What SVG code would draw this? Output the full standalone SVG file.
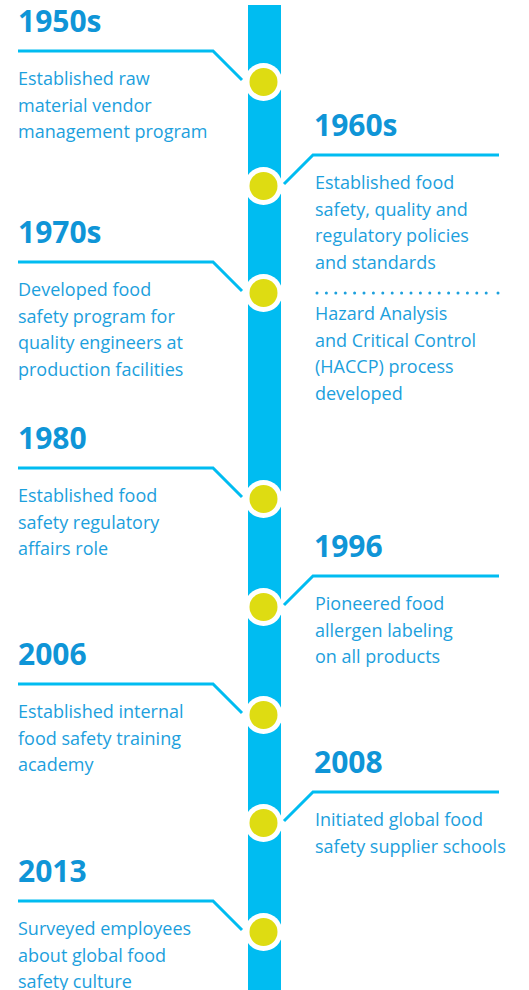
<svg xmlns="http://www.w3.org/2000/svg" width="529" height="990" viewBox="0 0 529 990">
  <style>
    .title { font-family: "Open Sans", "Liberation Sans", sans-serif; font-weight: 700; font-size: 30px; fill: #0f95d7; }
    .body { font-family: "Open Sans", "Liberation Sans", sans-serif; font-size: 18px; fill: #1ca0dd; }
    .conn { fill: none; stroke: #00bcf1; stroke-width: 3; }
    .ring { fill: #ffffff; }
    .dot { fill: #dedc12; }
  </style>
  <rect width="529" height="990" fill="#ffffff"/>
  <rect id="timeline-bar" x="248" y="5" width="33" height="985" fill="#00bcf1"/>

  <g id="connectors">
    <path class="conn" d="M18,51 H213 L242,80"/>
    <path class="conn" d="M499,155 H313 L284,184"/>
    <path class="conn" d="M18,262 H213 L242,291"/>
    <path class="conn" d="M18,468 H213 L242,497"/>
    <path class="conn" d="M499,576 H313 L284,605"/>
    <path class="conn" d="M18,684 H213 L242,713"/>
    <path class="conn" d="M499,792 H313 L284,821"/>
    <path class="conn" d="M18,901 H213 L242,930"/>
    <line x1="317" y1="293" x2="487" y2="293" stroke="#1ca0dd" stroke-width="3" stroke-linecap="round" stroke-dasharray="0 9.4"/>
    <circle cx="498" cy="293" r="1.5" fill="#1ca0dd"/>
  </g>

  <g id="dots">
    <circle class="ring" cx="263.5" cy="82" r="19"/><circle class="dot" cx="263.5" cy="82" r="14"/>
    <circle class="ring" cx="263.5" cy="186" r="19"/><circle class="dot" cx="263.5" cy="186" r="14"/>
    <circle class="ring" cx="263.5" cy="293" r="19"/><circle class="dot" cx="263.5" cy="293" r="14"/>
    <circle class="ring" cx="263.5" cy="499" r="19"/><circle class="dot" cx="263.5" cy="499" r="14"/>
    <circle class="ring" cx="263.5" cy="607" r="19"/><circle class="dot" cx="263.5" cy="607" r="14"/>
    <circle class="ring" cx="263.5" cy="715" r="19"/><circle class="dot" cx="263.5" cy="715" r="14"/>
    <circle class="ring" cx="263.5" cy="823" r="19"/><circle class="dot" cx="263.5" cy="823" r="14"/>
    <circle class="ring" cx="263.5" cy="932" r="19"/><circle class="dot" cx="263.5" cy="932" r="14"/>
  </g>

  <g id="node-1950s">
    <text class="title" x="18" y="32">1950s</text>
    <text class="body" x="18" y="85">Established raw</text>
    <text class="body" x="18" y="111.7">material vendor</text>
    <text class="body" x="18" y="138.4">management program</text>
  </g>

  <g id="node-1960s">
    <text class="title" x="314" y="136">1960s</text>
    <text class="body" x="315" y="189">Established food</text>
    <text class="body" x="315" y="215.7">safety, quality and</text>
    <text class="body" x="315" y="242.4">regulatory policies</text>
    <text class="body" x="315" y="269.1">and standards</text>
    <text class="body" x="315" y="320">Hazard Analysis</text>
    <text class="body" x="315" y="346.7">and Critical Control</text>
    <text class="body" x="315" y="373.4">(HACCP) process</text>
    <text class="body" x="315" y="400.1">developed</text>
  </g>

  <g id="node-1970s">
    <text class="title" x="18" y="243">1970s</text>
    <text class="body" x="18" y="296">Developed food</text>
    <text class="body" x="18" y="322.7">safety program for</text>
    <text class="body" x="18" y="349.4">quality engineers at</text>
    <text class="body" x="18" y="376.1">production facilities</text>
  </g>

  <g id="node-1980">
    <text class="title" x="18" y="449">1980</text>
    <text class="body" x="18" y="502">Established food</text>
    <text class="body" x="18" y="528.7">safety regulatory</text>
    <text class="body" x="18" y="555.4">affairs role</text>
  </g>

  <g id="node-1996">
    <text class="title" x="314" y="557">1996</text>
    <text class="body" x="315" y="610">Pioneered food</text>
    <text class="body" x="315" y="636.7">allergen labeling</text>
    <text class="body" x="315" y="663.4">on all products</text>
  </g>

  <g id="node-2006">
    <text class="title" x="18" y="665">2006</text>
    <text class="body" x="18" y="718">Established internal</text>
    <text class="body" x="18" y="744.7">food safety training</text>
    <text class="body" x="18" y="771.4">academy</text>
  </g>

  <g id="node-2008">
    <text class="title" x="314" y="773">2008</text>
    <text class="body" x="315" y="826">Initiated global food</text>
    <text class="body" x="315" y="852.7">safety supplier schools</text>
  </g>

  <g id="node-2013">
    <text class="title" x="18" y="882">2013</text>
    <text class="body" x="18" y="935">Surveyed employees</text>
    <text class="body" x="18" y="961.7">about global food</text>
    <text class="body" x="18" y="988.4">safety culture</text>
  </g>
</svg>
